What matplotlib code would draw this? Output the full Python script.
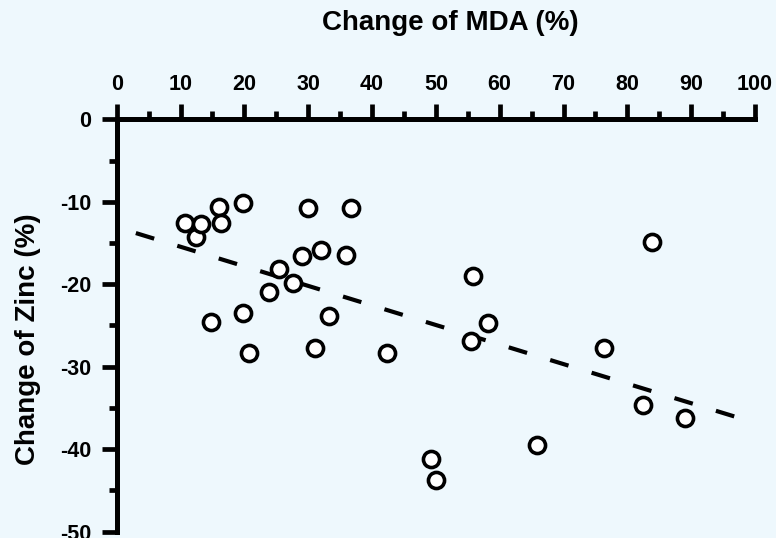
import matplotlib
matplotlib.use("Agg")
import matplotlib.pyplot as plt
from matplotlib.ticker import MultipleLocator

mda = [10.7, 12.4, 13.2, 16.1, 16.4, 19.8, 30.0, 36.7, 29.1, 32.0, 35.9, 25.4,
       23.9, 27.6, 14.8, 19.8, 20.8, 31.1, 33.3, 42.4, 55.8, 58.1, 55.5, 76.4,
       82.4, 89.1, 65.8, 49.2, 50.0, 83.8]
zinc = [-12.6, -14.3, -12.7, -10.6, -12.6, -10.2, -10.8, -10.8, -16.6, -15.9, -16.5, -18.2,
        -21.0, -19.8, -24.6, -23.5, -28.4, -27.8, -23.9, -28.4, -19.0, -24.7, -26.9, -27.7,
        -34.6, -36.2, -39.5, -41.2, -43.8, -14.9]
trend_x = [3.0, 97.0]
trend_y = [-13.8, -36.1]
xticks = [0, 10, 20, 30, 40, 50, 60, 70, 80, 90, 100]
yticks = [0, -10, -20, -30, -40, -50]

bg = '#eef8fd'
plt.rcParams['font.family'] = ['Liberation Sans', 'DejaVu Sans']
plt.rcParams['font.weight'] = 'bold'
plt.rcParams['axes.unicode_minus'] = False

W, H = 776, 538
top_px, bot_px, left_px, right_px = 119.3, 531.5, 116.7, 755.0
fig = plt.figure(figsize=(W / 100, H / 100), dpi=100, facecolor=bg)
ax = fig.add_axes([left_px / W, 1 - bot_px / H, (right_px - left_px) / W, (bot_px - top_px) / H])
ax.set_facecolor(bg)

ax.plot(trend_x, trend_y, color='black', lw=3.0, dashes=(4.6, 5.8), solid_capstyle='butt',
        dash_capstyle='butt', zorder=2)
ax.plot(mda, zinc, 'o', ms=11.6, mfc='white', mec='black', mew=2.6, zorder=3, clip_on=False)

ax.set_xlim(0, 100)
ax.set_ylim(-50, 0)
ax.spines['bottom'].set_visible(False)
ax.spines['right'].set_visible(False)
for s in ('top', 'left'):
    ax.spines[s].set_linewidth(3.6)
    ax.spines[s].set_capstyle('projecting')

ax.xaxis.tick_top()
ax.set_xticks(xticks)
ax.set_yticks(yticks)
ax.xaxis.set_minor_locator(MultipleLocator(5))
ax.yaxis.set_minor_locator(MultipleLocator(5))
ax.tick_params(which='major', direction='out', length=11, width=3.4, labelsize=15.5)
ax.tick_params(axis='x', which='major', pad=6.5)
ax.tick_params(axis='y', which='major', pad=7.5)
ax.tick_params(which='minor', direction='out', length=6, width=3.4)
for lab in ax.get_xticklabels() + ax.get_yticklabels():
    lab.set_fontweight('bold')

fig.text(450 / W, 1 - 23 / H, 'Change of MDA (%)', ha='center', va='center',
         fontsize=20, fontweight='bold')
fig.text(28 / W, 1 - 339 / H, 'Change of Zinc (%)', ha='center', va='center',
         rotation=90, fontsize=20, fontweight='bold')

fig.savefig('out.png', dpi=100, facecolor=bg)
